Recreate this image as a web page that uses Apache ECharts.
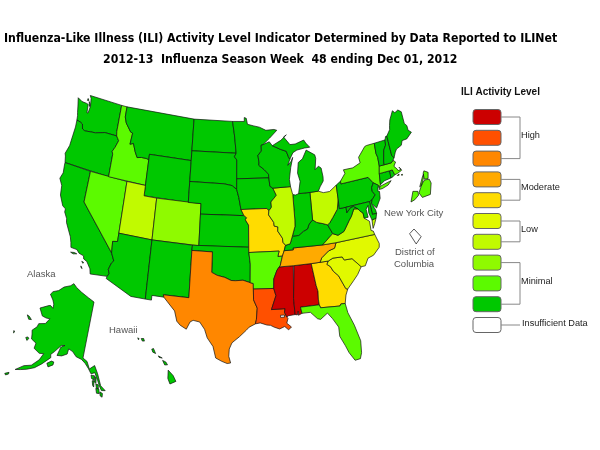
<!DOCTYPE html>
<html>
<head>
<meta charset="utf-8">
<script src="https://cdn.jsdelivr.net/npm/echarts@6/dist/echarts.min.js"></script>
<style>html,body{margin:0;padding:0;background:#fff}#chart{width:600px;height:450px}</style>
</head>
<body>
<div id="chart"></div>
<script>
// activity level of each state, week 48 (11 = insufficient data)
const stateNames = ['Washington','Oregon','California','Nevada','Idaho','Montana','Wyoming','Utah','Colorado','Arizona','New Mexico',
  'North Dakota','South Dakota','Nebraska','Kansas','Oklahoma','Texas','Minnesota','Iowa','Missouri','Arkansas','Louisiana',
  'Mississippi','Alabama','Georgia','Florida','South Carolina','North Carolina','Tennessee','Kentucky','Virginia','West Virginia',
  'Ohio','Indiana','Illinois','Wisconsin','Michigan','Pennsylvania','New York','New Jersey','Delaware','Maryland','Connecticut',
  'Rhode Island','Massachusetts','Vermont','New Hampshire','Maine','Alaska','Hawaii','New York City','District of Columbia'];
const stateLevels = [1,1,1,2,2,1,1,4,3,1,1,
  1,1,1,1,1,8,1,1,6,2,9,
  10,10,6,2,5,5,7,1,4,1,
  4,1,4,1,1,1,2,1,1,1,1,
  1,2,1,1,1,1,1,2,11];

// legend, lowest level first
const levelColors = ['#00c800','#5cfa00','#8ffa00','#c1fa00','#e1f900','#ffdc00','#ffaa00','#ff8700','#ff5000','#cc0000','#ffffff'];
const legendGroups = ['High','Moderate','Low','Minimal'];
const groupLevels = [[10,8],[7,6],[5,4],[3,1]];
const insufficientLabel = 'Insufficient Data';

const titleLines = ['Influenza-Like Illness (ILI) Activity Level Indicator Determined by Data Reported to ILINet',
  '2012-13  Influenza Season Week  48 ending Dec 01, 2012'];

// state outlines, lon/lat
const stateShapes = {
  'Washington': [[[-124.7,48.38],[-123.9,48.16],[-123.1,48.15],[-122.75,48.1],[-122.65,47.3],[-122.45,47.3],[-122.3,48],[-122.5,48.75],[-122.76,49],[-117.03,49],[-117.04,46.42],[-116.92,46],[-118.98,46],[-119.3,45.93],[-120.5,45.7],[-121.2,45.65],[-122.3,45.55],[-122.75,45.65],[-122.95,46.1],[-123.4,46.22],[-124,46.27],[-124.07,46.7],[-124.2,47],[-124.4,47.6]],
    [[-123,48.65],[-122.85,48.7],[-122.8,48.5],[-123.05,48.45]],[[-122.7,48.4],[-122.45,48.2],[-122.4,47.95],[-122.55,48.1]]],
  'Oregon': [[[-124,46.27],[-123.4,46.22],[-122.95,46.1],[-122.75,45.65],[-122.3,45.55],[-121.2,45.65],[-120.5,45.7],[-119.3,45.93],[-118.98,46],[-116.92,46],[-116.46,45.6],[-116.85,44.9],[-117.2,44.45],[-117.03,44.2],[-117.03,42],[-124.21,42],[-124.4,42.6],[-124.55,42.84],[-124.15,43.7],[-124.05,44.7],[-123.95,45.6]]],
  'California': [[[-124.21,42],[-120,42],[-120,39],[-114.63,35],[-114.14,34.3],[-114.43,34.05],[-114.72,33.4],[-114.52,33.03],[-114.72,32.72],[-117.12,32.53],[-117.28,33],[-117.9,33.6],[-118.4,33.75],[-118.5,34.03],[-119.2,34.15],[-119.6,34.42],[-120.5,34.45],[-120.65,34.9],[-120.9,35.4],[-121.9,36.6],[-122,36.95],[-122.5,37.5],[-122.5,37.8],[-123,38],[-123.7,38.9],[-123.85,39.8],[-124.4,40.4],[-124.1,41],[-124.2,41.75]],
    [[-120.4,34],[-119.9,34.08],[-119.5,34.03],[-120,33.92]],[[-118.6,33.48],[-118.3,33.42],[-118.4,33.32]],[[-118.6,33.03],[-118.35,32.82],[-118.5,32.85]]],
  'Nevada': [[[-120,42],[-114.04,42],[-114.04,36.2],[-114.75,36.1],[-114.63,35],[-120,39]]],
  'Idaho': [[[-117.03,49],[-116.05,49],[-116.05,48],[-115.7,47.45],[-114.7,46.7],[-114.35,46.65],[-114.5,45.55],[-113.95,45.7],[-113.45,44.95],[-113,44.45],[-112.3,44.55],[-111.5,44.55],[-111.05,44.48],[-111.05,42],[-117.03,42],[-117.03,44.2],[-117.2,44.45],[-116.85,44.9],[-116.46,45.6],[-116.92,46],[-117.04,46.42]]],
  'Montana': [[[-116.05,49],[-104.05,49],[-104.05,45],[-111.05,45],[-111.05,44.48],[-111.5,44.55],[-112.3,44.55],[-113,44.45],[-113.45,44.95],[-113.95,45.7],[-114.5,45.55],[-114.35,46.65],[-114.7,46.7],[-115.7,47.45],[-116.05,48]]],
  'Wyoming': [[[-111.05,45],[-104.05,45],[-104.05,41],[-111.05,41]]],
  'Utah': [[[-114.04,42],[-111.05,42],[-111.05,41],[-109.05,41],[-109.05,37],[-114.04,37]]],
  'Colorado': [[[-109.05,41],[-102.05,41],[-102.05,37],[-109.05,37]]],
  'Arizona': [[[-114.04,37],[-109.05,37],[-109.05,31.33],[-111.07,31.33],[-114.81,32.5],[-114.72,32.72],[-114.52,33.03],[-114.72,33.4],[-114.43,34.05],[-114.14,34.3],[-114.63,35],[-114.75,36.1],[-114.04,36.2]]],
  'New Mexico': [[[-109.05,37],[-103,37],[-103.04,36.5],[-103.06,32],[-106.62,32],[-106.53,31.78],[-108.2,31.78],[-108.2,31.33],[-109.05,31.33]]],
  'North Dakota': [[[-104.05,49],[-97.23,49],[-96.85,47.6],[-96.56,45.94],[-104.05,45.94]]],
  'South Dakota': [[[-104.05,45.94],[-96.56,45.94],[-96.85,45.6],[-96.45,45.3],[-96.45,43.5],[-96.45,42.49],[-97.2,42.85],[-98.5,43],[-104.05,43]]],
  'Nebraska': [[[-104.05,43],[-98.5,43],[-97.2,42.85],[-96.45,42.49],[-96.1,41.7],[-95.77,40.58],[-95.31,40],[-102.05,40],[-102.05,41],[-104.05,41]]],
  'Kansas': [[[-102.05,40],[-95.31,40],[-94.9,39.8],[-95.1,39.6],[-94.61,39.1],[-94.62,37],[-102.05,37]]],
  'Oklahoma': [[[-103,37],[-94.62,37],[-94.62,36.5],[-94.43,35.4],[-94.48,33.64],[-95.5,33.88],[-96.6,33.83],[-97.2,33.85],[-98.1,34.13],[-99.2,34.3],[-100,34.56],[-100,36.5],[-103.04,36.5]]],
  'Texas': [[[-106.62,32],[-103.06,32],[-103.04,36.5],[-100,36.5],[-100,34.56],[-99.2,34.3],[-98.1,34.13],[-97.2,33.85],[-96.6,33.83],[-95.5,33.88],[-94.48,33.64],[-94.04,33.55],[-94.04,33.02],[-94.04,32],[-93.55,31.2],[-93.7,30.1],[-93.85,29.7],[-94.7,29.4],[-95.1,29.1],[-96,28.5],[-97,27.9],[-97.35,27.3],[-97.4,26.6],[-97.15,25.96],[-97.6,25.9],[-98.3,26.1],[-99.1,26.4],[-99.5,27.5],[-100.3,28.3],[-100.7,29.1],[-101.4,29.77],[-102.3,29.88],[-102.7,29.7],[-103.15,28.98],[-104,29.3],[-104.5,29.65],[-104.9,30.6],[-106,31.4],[-106.53,31.78]]],
  'Minnesota': [[[-97.23,49],[-95.15,49],[-95.15,49.38],[-94.8,49.3],[-94.6,48.72],[-93.5,48.55],[-92.5,48.4],[-91.4,48.07],[-90,48.1],[-89.5,48],[-90.8,47.3],[-92,46.7],[-92.3,46.66],[-92.3,46.1],[-92.9,45.7],[-92.75,45],[-92.8,44.75],[-91.9,44.3],[-91.25,43.85],[-91.22,43.5],[-96.45,43.5],[-96.45,45.3],[-96.85,45.6],[-96.56,45.94],[-96.85,47.6]]],
  'Iowa': [[[-96.45,43.5],[-91.22,43.5],[-91.1,42.7],[-90.65,42.5],[-90.15,41.8],[-91.05,41.2],[-91,40.7],[-91.42,40.38],[-91.73,40.61],[-95.77,40.58],[-96.1,41.7],[-96.45,42.49]]],
  'Missouri': [[[-95.77,40.58],[-91.73,40.61],[-91.42,40.38],[-91.5,40],[-90.75,39.25],[-90.7,38.9],[-90.15,38.8],[-90.2,38.4],[-89.55,37.7],[-89.5,37.3],[-89.15,37],[-89.4,36.5],[-89.7,36],[-90.37,36],[-90.15,36.5],[-94.62,36.5],[-94.62,37],[-94.61,39.1],[-95.1,39.6],[-94.9,39.8],[-95.31,40]]],
  'Arkansas': [[[-94.62,36.5],[-90.15,36.5],[-90.37,36],[-89.7,36],[-90.1,35.1],[-90.25,35],[-90.6,34.7],[-91.1,33.9],[-91.17,33],[-94.04,33.02],[-94.04,33.55],[-94.48,33.64],[-94.43,35.4]]],
  'Louisiana': [[[-94.04,33.02],[-91.17,33],[-90.9,32.3],[-91.6,31],[-89.73,31],[-89.83,30.65],[-89.55,30.2],[-89.4,30.05],[-89.6,29.6],[-89,29.2],[-89.4,28.95],[-89.9,29.3],[-90.6,29.1],[-91.3,29.3],[-91.8,29.5],[-92.3,29.55],[-93.2,29.78],[-93.85,29.7],[-93.7,30.1],[-93.55,31.2],[-94.04,32]]],
  'Mississippi': [[[-90.25,35],[-88.2,35],[-88.1,34.9],[-88.47,31.9],[-88.4,30.35],[-89.3,30.3],[-89.55,30.2],[-89.83,30.65],[-89.73,31],[-91.6,31],[-90.9,32.3],[-91.17,33],[-91.1,33.9],[-90.6,34.7]]],
  'Alabama': [[[-88.2,35],[-85.6,35],[-85.18,32.87],[-85,32.3],[-85.05,31.55],[-85,31],[-87.6,31],[-87.45,30.4],[-87.95,30.25],[-87.95,30.65],[-88.1,30.3],[-88.4,30.35],[-88.47,31.9],[-88.1,34.9]]],
  'Georgia': [[[-85.6,35],[-83.11,35],[-83.35,34.7],[-82.9,34.45],[-82.55,33.95],[-81.9,33.45],[-81.4,32.6],[-81.1,32.1],[-80.85,32.03],[-81.2,31.5],[-81.45,30.72],[-82.05,30.75],[-82.2,30.57],[-84.86,30.7],[-85,31],[-85.05,31.55],[-85,32.3],[-85.18,32.87]]],
  'Florida': [[[-87.6,31],[-85,31],[-84.86,30.7],[-82.2,30.57],[-82.05,30.75],[-81.45,30.72],[-81.25,29.8],[-80.6,28.5],[-80.05,26.9],[-80.15,25.75],[-80.4,25.2],[-81.1,25.15],[-81.75,26],[-82.1,26.7],[-82.7,27.7],[-82.7,28.6],[-83.4,29.5],[-84,30.1],[-85,29.6],[-85.4,29.7],[-86.3,30.4],[-87.45,30.4]]],
  'South Carolina': [[[-83.35,34.7],[-83.11,35],[-82.4,35.2],[-81.05,35.15],[-80.8,34.82],[-79.67,34.8],[-78.55,33.86],[-79.2,33.2],[-79.9,32.7],[-80.85,32.03],[-81.1,32.1],[-81.4,32.6],[-81.9,33.45],[-82.55,33.95],[-82.9,34.45]]],
  'North Carolina': [[[-84.32,35],[-83.11,35],[-82.4,35.2],[-81.05,35.15],[-80.8,34.82],[-79.67,34.8],[-78.55,33.86],[-77.95,33.85],[-77.4,34.5],[-76.55,34.65],[-75.55,35.25],[-75.45,35.6],[-75.87,36.55],[-81.68,36.59],[-82,36.1],[-82.9,35.95],[-84,35.4]]],
  'Tennessee': [[[-89.7,36],[-89.4,36.5],[-88.05,36.5],[-88.07,36.68],[-83.68,36.6],[-81.68,36.59],[-82,36.1],[-82.9,35.95],[-84,35.4],[-84.32,35],[-85.6,35],[-88.2,35],[-90.25,35],[-90.1,35.1]]],
  'Kentucky': [[[-89.4,36.5],[-89.15,37],[-88.45,37.1],[-88.05,37.8],[-87.1,37.8],[-86.3,38.15],[-85.7,38.3],[-85.4,38.73],[-84.8,39.1],[-84.2,38.8],[-83.3,38.6],[-82.6,38.4],[-82,37.5],[-83.68,36.6],[-88.07,36.68],[-88.05,36.5]]],
  'Virginia': [[[-83.68,36.6],[-81.68,36.59],[-75.87,36.55],[-76,36.9],[-76.3,37],[-76.3,37.9],[-77,38.3],[-77.05,38.8],[-77.5,39.1],[-77.72,39.32],[-78.35,39.4],[-78.87,38.77],[-79.3,38.42],[-80.3,37.5],[-81.25,37.25],[-82,37.5]],
    [[-75.9,37.95],[-75.25,38.03],[-75.6,37.55],[-75.95,37.15]]],
  'West Virginia': [[[-82.6,38.4],[-82,37.5],[-81.25,37.25],[-80.3,37.5],[-79.3,38.42],[-78.87,38.77],[-78.35,39.4],[-77.72,39.32],[-78.35,39.65],[-78.8,39.6],[-79.48,39.2],[-79.48,39.72],[-80.52,39.72],[-80.52,40.64],[-80.85,39.7],[-81.7,39],[-82.2,38.6]]],
  'Ohio': [[[-84.8,39.1],[-84.2,38.8],[-83.3,38.6],[-82.6,38.4],[-82.2,38.6],[-81.7,39],[-80.85,39.7],[-80.52,40.64],[-80.52,41.98],[-81.7,41.5],[-82.7,41.5],[-83.45,41.72],[-84.8,41.72]]],
  'Indiana': [[[-84.8,41.72],[-84.8,39.1],[-85.4,38.73],[-85.7,38.3],[-86.3,38.15],[-87.1,37.8],[-88.05,37.8],[-87.55,38.7],[-87.5,39.3],[-87.53,41.72],[-87.1,41.65],[-86.6,41.75]]],
  'Illinois': [[[-90.65,42.5],[-87.8,42.5],[-87.6,41.9],[-87.53,41.72],[-87.5,39.3],[-87.55,38.7],[-88.05,37.8],[-88.45,37.1],[-89.15,37],[-89.5,37.3],[-89.55,37.7],[-90.2,38.4],[-90.15,38.8],[-90.7,38.9],[-90.75,39.25],[-91.5,40],[-91.42,40.38],[-91,40.7],[-91.05,41.2],[-90.15,41.8]]],
  'Wisconsin': [[[-92.3,46.66],[-92,46.7],[-90.9,46.95],[-90.4,46.55],[-89.1,46.15],[-88.1,45.9],[-87.8,45.35],[-87.6,45.1],[-88,44.55],[-87.4,44.9],[-87.1,45.25],[-87.55,44.3],[-87.9,43.2],[-87.8,42.5],[-90.65,42.5],[-91.1,42.7],[-91.22,43.5],[-91.25,43.85],[-91.9,44.3],[-92.8,44.75],[-92.75,45],[-92.9,45.7],[-92.3,46.1]]],
  'Michigan': [[[-86.6,41.75],[-84.8,41.72],[-83.45,41.72],[-83.1,42.1],[-82.5,42.6],[-82.45,43],[-82.6,43.85],[-83,44.07],[-83.6,43.8],[-83.3,44.85],[-83.4,45.2],[-84.75,45.78],[-85.5,45],[-86.25,44.7],[-86.5,43.7],[-86.2,42.9]],
    [[-90.4,46.55],[-89.1,46.15],[-88.1,45.9],[-87.8,45.35],[-87.6,45.1],[-87,45.7],[-86.3,45.9],[-85,46],[-84.1,46],[-84.7,46.45],[-85,46.77],[-86.5,46.5],[-87.4,46.5],[-88.4,47.3],[-87.9,47.47],[-88.9,47],[-89.6,46.8]]],
  'Pennsylvania': [[[-80.52,41.98],[-79.76,42.27],[-79.76,42],[-75.35,42],[-74.7,41.36],[-75.1,40.95],[-75.1,40.6],[-74.75,40.2],[-75.4,39.8],[-75.8,39.72],[-79.48,39.72],[-80.52,39.72],[-80.52,40.64]]],
  'New York': [[[-79.76,42.27],[-78.9,42.9],[-79.05,43.27],[-77.5,43.25],[-76.2,43.55],[-76.3,44.1],[-75,44.95],[-74.7,45],[-73.35,45],[-73.4,44],[-73.25,43.6],[-73.27,42.75],[-73.5,42.05],[-73.65,41],[-73.95,40.75],[-74,41],[-74.7,41.36],[-75.35,42],[-79.76,42]],
    [[-74,40.6],[-73.75,40.85],[-72.6,41],[-71.9,41.07],[-72.5,40.75],[-73.5,40.58]]],
  'New Jersey': [[[-74.7,41.36],[-74,41],[-74.25,40.48],[-74,40.4],[-74.1,39.75],[-74.9,38.95],[-75.55,39.5],[-75.4,39.8],[-74.75,40.2],[-75.1,40.6],[-75.1,40.95]]],
  'Delaware': [[[-75.8,39.72],[-75.4,39.8],[-75.55,39.5],[-75.1,38.8],[-75.05,38.45],[-75.7,38.46]]],
  'Maryland': [[[-79.48,39.72],[-75.8,39.72],[-75.7,38.46],[-75.05,38.45],[-75.25,38.03],[-75.9,37.95],[-76.2,38.7],[-76.1,39.4],[-76.5,39.1],[-76.4,38.3],[-77,38.3],[-77.05,38.8],[-77.5,39.1],[-77.72,39.32],[-78.35,39.65],[-78.8,39.6],[-79.48,39.2]]],
  'Connecticut': [[[-73.5,42.05],[-71.8,42.02],[-71.85,41.32],[-72.9,41.25],[-73.65,41]]],
  'Rhode Island': [[[-71.8,42.02],[-71.38,42.02],[-71.15,41.5],[-71.5,41.37],[-71.85,41.32]]],
  'Massachusetts': [[[-73.5,42.05],[-73.27,42.75],[-72.46,42.73],[-71.3,42.7],[-70.95,42.88],[-70.6,42.65],[-71,42.3],[-70.6,41.95],[-70.5,41.78],[-70,41.8],[-70.25,42.07],[-69.95,41.7],[-70.65,41.55],[-71.15,41.5],[-71.38,42.02],[-71.8,42.02]],
    [[-70.8,41.35],[-70.5,41.45],[-70.5,41.33]],[[-70.2,41.3],[-69.95,41.3],[-70,41.22]]],
  'Vermont': [[[-73.35,45],[-71.5,45],[-71.6,44.5],[-72.05,44.1],[-72.45,43],[-72.46,42.73],[-73.27,42.75],[-73.25,43.6],[-73.4,44]]],
  'New Hampshire': [[[-71.5,45],[-71.3,45.3],[-71.08,45.3],[-70.98,43.4],[-70.7,43.07],[-70.95,42.88],[-71.3,42.7],[-72.46,42.73],[-72.45,43],[-72.05,44.1],[-71.6,44.5]]],
  'Maine': [[[-71.08,45.3],[-70.4,45.8],[-70.25,46.2],[-70,46.7],[-69.23,47.46],[-68.9,47.2],[-68.3,47.35],[-67.8,47.07],[-67.78,45.9],[-67.45,45.6],[-67.45,45.15],[-67,44.85],[-68,44.4],[-68.8,44.4],[-69.1,44],[-70,43.8],[-70.3,43.55],[-70.7,43.07],[-70.98,43.4]]],
  'Alaska': [[[-141,69.65],[-141,60.3],[-139,60],[-137.5,58.95],[-135.5,59.8],[-133.8,58.7],[-132,57],[-130,56.5],[-131.5,56.3],[-132.5,56.9],[-133.5,57.7],[-135,58.7],[-136.5,58.3],[-138,59],[-139.7,59.6],[-141.5,60],[-144,60.1],[-146,60.7],[-148,60.9],[-148,60],[-150,59.4],[-151.9,59.2],[-151.5,60.7],[-150,61.2],[-151.5,61],[-153.5,59.6],[-154.5,59],[-154,58.5],[-156.5,57],[-158.5,56],[-161,55.3],[-163,54.9],[-164.8,54.6],[-162.5,55.7],[-160,56.2],[-158,57.5],[-157.3,58.7],[-159,58.5],[-161.8,59],[-162,59.9],[-164.5,60.3],[-165.3,61.1],[-166.1,61.7],[-164.8,62.5],[-164.8,63.1],[-162,63.5],[-161,64.5],[-162.8,64.4],[-165,64.5],[-168,65.6],[-164.5,66.5],[-163.7,66.6],[-161.9,66.3],[-162.5,67],[-164,67.6],[-166.8,68.35],[-166.2,68.9],[-163.5,69.4],[-161.5,70.25],[-158,70.85],[-156.6,71.35],[-154,70.9],[-150,70.45],[-145,70]],
    [[-152.3,58],[-152.2,57.5],[-153.8,56.9],[-154.7,57.4],[-153.3,58]],[[-167,60.2],[-166,59.8],[-165.6,60.2],[-166.3,60.4]],[[-171.7,63.8],[-170,63.2],[-168.8,63.3],[-170.5,63.7]],
    [[-173,60.6],[-172.6,60.2],[-172.4,60.4]],[[-167.5,53.4],[-166.3,53.8],[-166.2,53.5],[-167,53.2]],
    [[-133.8,56.3],[-132.6,56.4],[-132.2,55.7],[-133.3,55.6]],[[-135.6,57.3],[-134.9,57.4],[-134.7,56.4],[-135.2,56.6]],[[-136.4,58.1],[-135,58.2],[-135,57.5],[-136,57.6]],
    [[-134.8,58.1],[-134.2,58],[-134,57.1],[-134.6,57.2]],[[-134,57],[-133,57],[-132.8,56.4],[-133.6,56.4]],[[-132,56],[-131,55.9],[-131,55.3],[-131.8,55.4]]],
  'Hawaii': [[[-155.9,20.25],[-155.2,19.95],[-154.8,19.5],[-155.65,18.95],[-155.95,19.4]],[[-156.7,20.95],[-156.25,20.95],[-156,20.75],[-156.4,20.6]],[[-157.3,21.2],[-156.75,21.17],[-157.2,21.08]],
    [[-158.25,21.55],[-158,21.7],[-157.7,21.3],[-158.1,21.3]],[[-159.75,22.1],[-159.4,22.22],[-159.3,22],[-159.6,21.9]],[[-160.25,22],[-160.05,21.98],[-160.15,21.85]]]
};
// hole in the Louisiana polygon, Lake Pontchartrain
const lakeRing = [[-90.4,30.2],[-89.85,30.2],[-89.85,30.4],[-90.4,30.4]];
// boroughs and the District, drawn off the coast
const nycShapes = [[[-74.25,40.5],[-74.2,40.64],[-74.07,40.64],[-74.05,40.59],[-74.15,40.53]],
  [[-74.04,40.62],[-73.96,40.74],[-73.89,40.79],[-73.77,40.8],[-73.72,40.75],[-73.74,40.6],[-73.95,40.56]],
  [[-74.02,40.7],[-73.97,40.72],[-73.93,40.8],[-73.92,40.87],[-73.95,40.83]],
  [[-73.93,40.88],[-73.91,40.91],[-73.8,40.89],[-73.8,40.81],[-73.9,40.8]]];
const dcShapes = [[[-77.04,38.995],[-76.91,38.89],[-77,38.79],[-77.12,38.93]]];
const NYC_SHIFT = 20, DC_SHIFT = 40;
stateShapes['New York City'] = nycShapes.map(r => r.map(p => [p[0] + NYC_SHIFT, p[1]]));
stateShapes['District of Columbia'] = dcShapes.map(r => r.map(p => [p[0] + DC_SHIFT, p[1]]));

const features = stateNames.map(function (name) {
  var polys = stateShapes[name].map(function (ring) { return [ring]; });
  if (name == 'Louisiana') polys[0].push(lakeRing);
  return { type: 'Feature', properties: { name: name }, geometry: { type: 'MultiPolygon', coordinates: polys } };
});
echarts.registerMap('usa', { type: 'FeatureCollection', features: features });

// Albers for the lower 48, insets placed by hand. Output is in page pixels
function project(pt) {
  var lon = pt[0], lat = pt[1];
  if (lon >= -45) { // DC
    lon -= DC_SHIFT;
    return [414 + (lon + 77.04) * 55, 229 + (38.995 - lat) * 73];
  }
  if (lon > -60) { // NYC
    lon -= NYC_SHIFT;
    return [411 + (lon + 74.25) * 38, 202 - (lat - 40.5) * 76];
  }
  if (lat > 50) { // Alaska
    var u = (lon + 150) * Math.cos(lat * Math.PI / 180);
    return [4.418 * u + 1.805 * lat - 45.55, 1.638 * u - 5.756 * lat + 697.8];
  }
  if (lat < 24) { // Hawaii
    return [171 + 7 * (lon + 155.5), 378 - 10 * (lat - 19.6) + 3.4 * (lon + 155.5)];
  }
  var n = 0.6029;
  var rho = 6.371 * Math.sqrt(1.3512 - 2 * n * Math.sin(lat * Math.PI / 180)) / n;
  var theta = n * (lon + 96) * Math.PI / 180;
  return [239.5 + 76.5 * rho * Math.sin(theta), 242 - 94 * (8.301 - rho * Math.cos(theta))];
}

// box of everything, so that the map lands 1:1 on the page
var minX = 1e9, minY = 1e9, maxX = -1e9, maxY = -1e9;
stateNames.forEach(function (name) {
  stateShapes[name].forEach(function (ring) {
    ring.forEach(function (p) {
      var q = project(p);
      minX = Math.min(minX, q[0]); maxX = Math.max(maxX, q[0]);
      minY = Math.min(minY, q[1]); maxY = Math.max(maxY, q[1]);
    });
  });
});

var LEG_X = 473, LEG_W = 28, LEG_H = 15, LEG_TOP = 109.5, LEG_STEP = 20.8, BRACKET_X = 520;
function rowOf(level) { return level == 11 ? 10 : 10 - level; }
function rowMid(level, shift) { return LEG_TOP + rowOf(level) * LEG_STEP + LEG_H / 2 + (shift || 0); }

var graphics = [];
function addText(text, x, y, style) {
  graphics.push({ type: 'text', x: x, y: y, style: Object.assign({ text: text, fill: '#222', font: '9.2px "Liberation Sans"', textVerticalAlign: 'middle' }, style) });
}
levelColors.forEach(function (color, i) {
  var level = i + 1;
  graphics.push({ type: 'rect', shape: { x: LEG_X, y: LEG_TOP + rowOf(level) * LEG_STEP, width: LEG_W, height: LEG_H, r: 3 },
    style: { fill: color, stroke: '#666', lineWidth: 1 } });
});
legendGroups.forEach(function (label, i) {
  var top = rowMid(groupLevels[i][0]), bottom = rowMid(groupLevels[i][1]);
  graphics.push({ type: 'polyline', shape: { points: [[LEG_X + LEG_W, top], [BRACKET_X, top], [BRACKET_X, bottom], [LEG_X + LEG_W, bottom]] },
    style: { stroke: '#888', fill: null, lineWidth: 1 } });
  addText(label, BRACKET_X + 1, (top + bottom) / 2 - 2, {});
});
graphics.push({ type: 'line', shape: { x1: LEG_X + LEG_W, y1: rowMid(11), x2: BRACKET_X, y2: rowMid(11) }, style: { stroke: '#888', lineWidth: 1 } });
addText(insufficientLabel, BRACKET_X + 2, rowMid(11) - 2, {});
addText('ILI Activity Level', 461, 92, { font: 'bold 10px "Liberation Sans"', fill: '#111' });
var mapLabelFont = { font: '9.5px "Liberation Sans"', fill: '#555' };
addText('Alaska', 27, 274, mapLabelFont);
addText('Hawaii', 109, 330, mapLabelFont);
addText('New York City', 384, 213, mapLabelFont);
addText('District of', 395, 252, mapLabelFont);
addText('Columbia', 394, 264, mapLabelFont);

var titleStyle = { fontFamily: '"DejaVu Sans Condensed","DejaVu Sans"', fontSize: 12.2, fontWeight: 'bold', color: '#000' };
var chart = echarts.init(document.getElementById('chart'));
chart.setOption({
  animation: false,
  backgroundColor: '#fff',
  title: [
    { text: titleLines[0], left: 4, top: 33, padding: 0, textStyle: titleStyle },
    { text: titleLines[1], left: 103, top: 54, padding: 0, textStyle: titleStyle }
  ],
  graphic: graphics,
  series: [{
    type: 'map',
    map: 'usa',
    projection: { project: project, unproject: function (p) { return p; } },
    left: minX, top: minY, width: maxX - minX, height: maxY - minY,
    roam: false,
    silent: true,
    selectedMode: false,
    label: { show: false },
    emphasis: { disabled: true },
    itemStyle: { borderColor: '#111', borderWidth: 0.7 },
    data: stateNames.map(function (name, i) {
      return { name: name, value: stateLevels[i], itemStyle: { areaColor: levelColors[stateLevels[i] - 1] } };
    })
  }]
});
</script>
</body>
</html>
